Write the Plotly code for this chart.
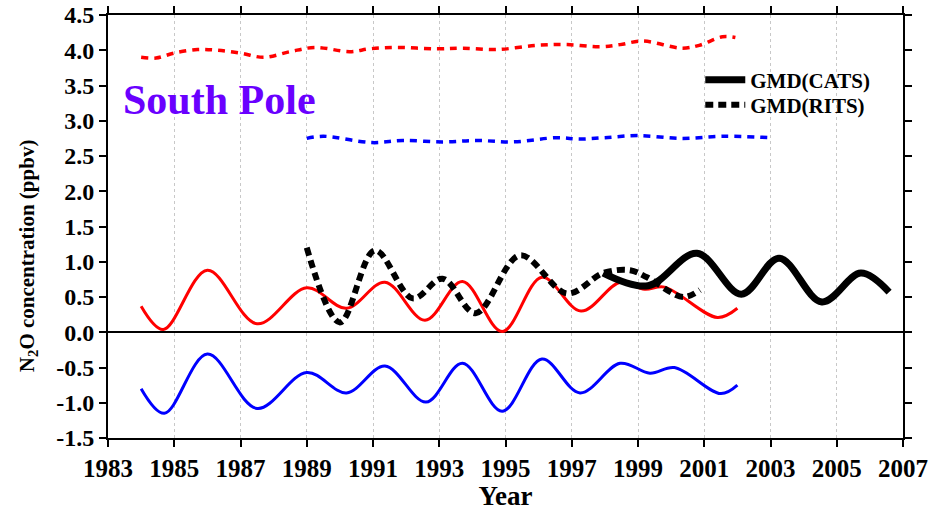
import plotly.graph_objects as go

# ---- data ----
red_solid_x = [1984.0, 1984.67, 1986.0, 1987.5, 1989.0, 1990.2, 1991.36, 1992.57, 1993.7, 1994.9,
               1996.1, 1997.28, 1998.46, 1999.2, 1999.8, 2001.4, 2002.0]
red_solid_y = [0.37, 0.04, 0.88, 0.12, 0.63, 0.34, 0.71, 0.17, 0.72, 0.01,
               0.78, 0.30, 0.71, 0.61, 0.64, 0.21, 0.34]

blue_solid_x = [1984.0, 1984.7, 1986.0, 1987.5, 1989.0, 1990.2, 1991.36, 1992.6, 1993.7, 1994.9,
                1996.1, 1997.25, 1998.46, 1999.36, 2000.1, 2001.5, 2002.0]
blue_solid_y = [-0.80, -1.15, -0.31, -1.08, -0.57, -0.86, -0.48, -0.99, -0.44, -1.12,
                -0.38, -0.86, -0.44, -0.58, -0.50, -0.87, -0.75]

red_dash_x = [1984.0, 1984.45, 1985.0, 1985.7, 1986.3, 1987.0, 1987.7, 1988.5, 1989.25, 1990.3,
              1990.9, 1991.72, 1992.93, 1993.7, 1994.74, 1995.95, 1996.86, 1997.85, 1998.46,
              1999.15, 2000.33, 2000.85, 2001.55, 2001.94]
red_dash_y = [3.90, 3.89, 3.96, 4.01, 4.00, 3.96, 3.90, 3.98, 4.04, 3.98,
              4.02, 4.04, 4.02, 4.03, 4.01, 4.07, 4.08, 4.05, 4.08,
              4.13, 4.03, 4.07, 4.19, 4.18]

blue_dash_x = [1989.0, 1989.5, 1990.97, 1991.9, 1993.1, 1994.14, 1995.23, 1996.55, 1997.25,
               1998.0, 1999.0, 2000.3, 2001.6, 2003.0]
blue_dash_y = [2.75, 2.78, 2.69, 2.72, 2.70, 2.72, 2.70, 2.76, 2.74,
               2.76, 2.79, 2.75, 2.78, 2.76]

rits_x = [1989.0, 1990.0, 1991.06, 1992.2, 1993.1, 1994.1, 1995.44, 1996.86, 1997.95,
          1998.76, 1999.27, 2000.36, 2000.87]
rits_y = [1.20, 0.14, 1.16, 0.48, 0.76, 0.27, 1.09, 0.55, 0.84,
          0.88, 0.78, 0.50, 0.60]

cats_x = [1997.95, 1999.3, 2000.78, 2002.12, 2003.26, 2004.55, 2005.73, 2006.58]
cats_y = [0.84, 0.66, 1.12, 0.54, 1.05, 0.43, 0.84, 0.57]

x_ticks = list(range(1983, 2008, 2))
y_ticks = [-1.5, -1.0, -0.5, 0.0, 0.5, 1.0, 1.5, 2.0, 2.5, 3.0, 3.5, 4.0, 4.5]
y_tick_text = ["%.1f" % v for v in y_ticks]

FONT = "Liberation Serif"

fig = go.Figure()

fig.add_trace(go.Scatter(x=red_dash_x, y=red_dash_y, mode="lines", showlegend=False,
                         line=dict(color="#FF0000", width=3.5, dash="7px,6px", shape="spline")))
fig.add_trace(go.Scatter(x=blue_dash_x, y=blue_dash_y, mode="lines", showlegend=False,
                         line=dict(color="#0000FF", width=3.5, dash="7px,6px", shape="spline")))
fig.add_trace(go.Scatter(x=red_solid_x, y=red_solid_y, mode="lines", showlegend=False,
                         line=dict(color="#FF0000", width=3, shape="spline")))
fig.add_trace(go.Scatter(x=blue_solid_x, y=blue_solid_y, mode="lines", showlegend=False,
                         line=dict(color="#0000FF", width=3, shape="spline")))
fig.add_trace(go.Scatter(x=cats_x, y=cats_y, mode="lines", name="<b>GMD(CATS)</b>",
                         legend="legend",
                         line=dict(color="#000000", width=7, shape="spline")))
fig.add_trace(go.Scatter(x=rits_x, y=rits_y, mode="lines", name="<b>GMD(RITS)</b>",
                         legend="legend2",
                         line=dict(color="#000000", width=6, dash="8px,5px", shape="spline")))

fig.add_annotation(x=1983.4, y=3.3, xref="x", yref="y", text="<b>South Pole</b>",
                   showarrow=False, xanchor="left", yanchor="middle",
                   font=dict(family=FONT, size=42, color="#6A00FF"))

# y-axis title (placed slightly below centre, as in the reference)
fig.add_annotation(x=-0.1006, y=0.43, xref="paper", yref="paper",
                   text="<b>N<sub>2</sub>O concentration (ppbv)</b>", textangle=-90,
                   showarrow=False, xanchor="center", yanchor="middle",
                   font=dict(family=FONT, size=21, color="black"))

axis_common = dict(showline=True, linecolor="black", linewidth=2, mirror="ticks",
                   ticks="outside", ticklen=7, tickwidth=2, tickcolor="black")

fig.update_xaxes(range=[1983, 2007], tickvals=x_ticks, ticktext=["<b>%d</b>" % v for v in x_ticks],
                 **axis_common,
                 showgrid=True, gridcolor="#C8C8C8", griddash="dot", gridwidth=1,
                 zeroline=False,
                 tickfont=dict(family=FONT, size=25, color="black"),
                 title=dict(text="<b>Year</b>", font=dict(family=FONT, size=27, color="black"),
                            standoff=5))
fig.update_yaxes(range=[-1.5, 4.5], tickvals=y_ticks, ticktext=["<b>%s</b>" % t for t in y_tick_text],
                 **axis_common, showgrid=False,
                 zeroline=True, zerolinecolor="black", zerolinewidth=2,
                 tickfont=dict(family=FONT, size=24, color="black"))

legend_common = dict(xanchor="left", yanchor="middle", bgcolor="rgba(0,0,0,0)", borderwidth=0,
                     font=dict(family=FONT, size=21, color="black"), itemwidth=40)

fig.update_layout(
    width=937, height=511,
    margin=dict(l=108, r=34, t=15, b=73, autoexpand=False),
    plot_bgcolor="white", paper_bgcolor="white",
    legend=dict(x=0.745, y=(438 - 80) / 423, **legend_common),
    legend2=dict(x=0.745, y=(438 - 105) / 423, **legend_common),
)

fig.write_html("out.html")
